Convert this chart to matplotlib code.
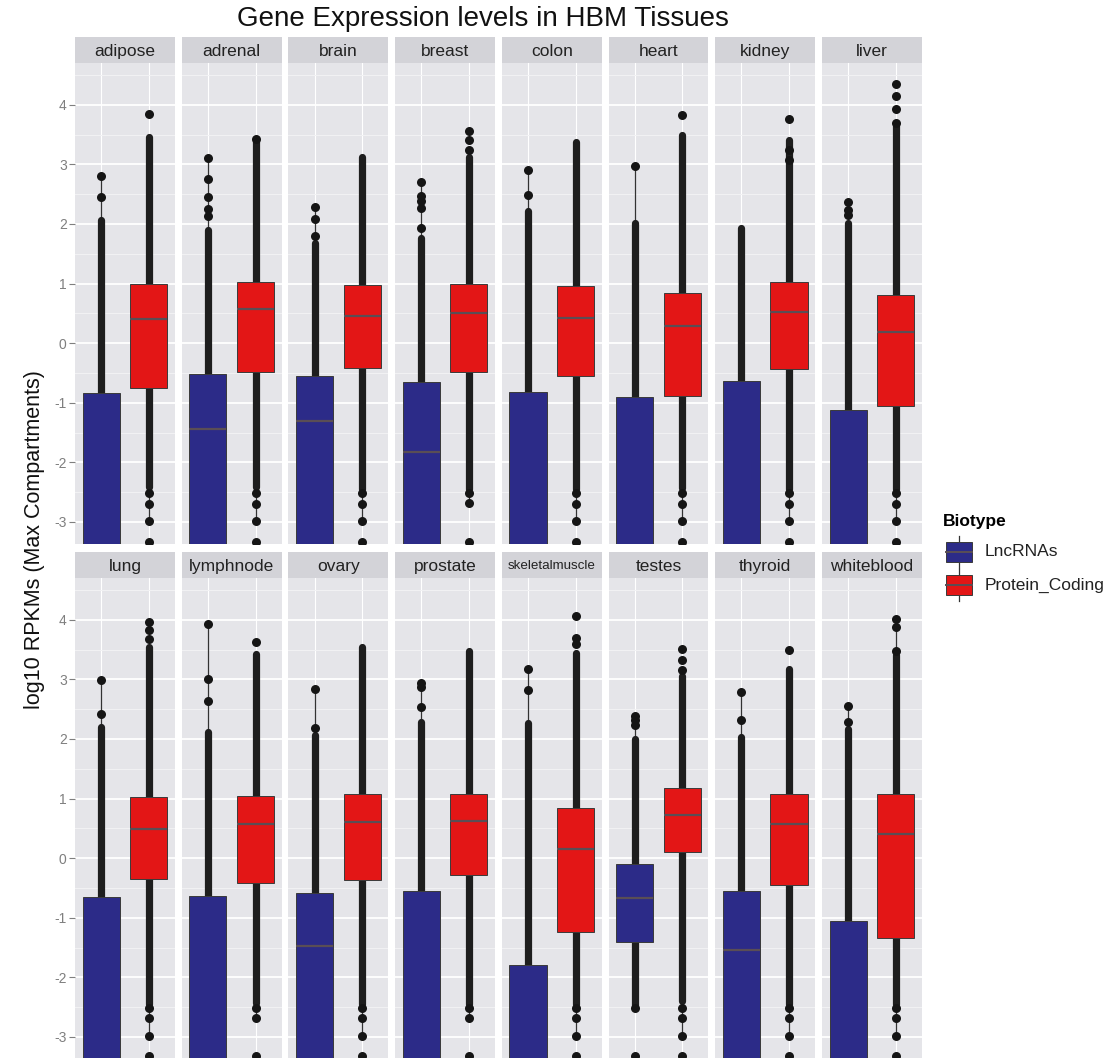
import numpy as np
import matplotlib.pyplot as plt

plt.rcParams['font.family'] = ['Liberation Sans', 'DejaVu Sans']
plt.rcParams['axes.unicode_minus'] = False

W, H = 1119, 1058

tissues = ['adipose', 'adrenal', 'brain', 'breast', 'colon', 'heart', 'kidney', 'liver',
           'lung', 'lymphnode', 'ovary', 'prostate', 'skeletalmuscle', 'testes', 'thyroid', 'whiteblood']

# LncRNAs (blue) -- lower quartile (and most medians) fall below the visible range
lnc_q1 = [-3.6, -3.6, -3.6, -3.6, -3.6, -3.6, -3.6, -3.6,
          -3.6, -3.6, -3.6, -3.6, -3.6, -1.40, -3.6, -3.6]
lnc_med = [-3.5, -1.44, -1.30, -1.82, -3.5, -3.5, -3.5, -3.5,
           -3.5, -3.5, -1.48, -3.5, -3.5, -0.67, -1.54, -3.5]
lnc_q3 = [-0.83, -0.52, -0.55, -0.66, -0.82, -0.90, -0.64, -1.12,
          -0.66, -0.63, -0.59, -0.55, -1.80, -0.09, -0.55, -1.05]
lnc_whis_lo = [-3.6, -3.6, -3.6, -3.6, -3.6, -3.6, -3.6, -3.6,
               -3.6, -3.6, -3.6, -3.6, -3.6, -2.51, -3.6, -3.6]
lnc_whis_hi = [2.81, 3.11, 2.28, 2.71, 2.91, 2.97, 1.93, 2.36,
               2.99, 3.93, 2.83, 2.93, 3.18, 2.39, 2.79, 2.56]
# range covered by a solid run of points
lnc_dense_lo = [-3.6, -3.6, -3.6, -3.6, -3.6, -3.6, -3.6, -3.6,
                -3.6, -3.6, -3.6, -3.6, -3.6, -2.47, -3.6, -3.6]
lnc_dense_hi = [2.07, 1.90, 1.68, 1.76, 2.21, 2.01, 1.93, 2.02,
                2.20, 2.12, 2.06, 2.28, 2.26, 2.00, 2.03, 2.17]
lnc_points = [[2.81, 2.46], [3.11, 2.75, 2.46, 2.25, 2.13], [2.28, 2.08, 1.79],
              [2.71, 2.47, 2.38, 2.27, 1.93], [2.91, 2.49], [2.97], [], [2.36, 2.24, 2.15],
              [2.99, 2.41], [3.93, 3.01, 2.63], [2.83, 2.18], [2.93, 2.87, 2.53],
              [3.18, 2.82], [2.39, 2.31, 2.23, -2.51, -3.32], [2.79, 2.31], [2.56, 2.28]]

# Protein_Coding (red)
pc_q1 = [-0.745, -0.48, -0.42, -0.49, -0.55, -0.88, -0.44, -1.06,
         -0.35, -0.41, -0.36, -0.29, -1.24, 0.10, -0.45, -1.34]
pc_med = [0.40, 0.57, 0.46, 0.50, 0.42, 0.28, 0.52, 0.18,
          0.49, 0.58, 0.60, 0.62, 0.15, 0.73, 0.58, 0.41]
pc_q3 = [0.995, 1.02, 0.97, 0.995, 0.96, 0.84, 1.02, 0.80,
         1.02, 1.04, 1.07, 1.08, 0.84, 1.17, 1.08, 1.08]
pc_whis_lo = [-2.99, -2.99, -2.99, -2.69, -2.99, -2.99, -2.99, -2.99,
              -2.99, -2.69, -2.99, -2.69, -2.99, -2.99, -2.99, -2.99]
pc_whis_hi = [3.46, 3.43, 3.12, 3.13, 3.37, 3.50, 3.41, 3.64,
              3.54, 3.43, 3.54, 3.48, 3.45, 3.06, 3.18, 4.02]
pc_dense_lo = [-2.41, -2.42, -2.45, -2.44, -2.45, -2.43, -2.45, -2.44,
               -2.45, -2.43, -2.45, -2.44, -2.45, -2.40, -2.45, -2.44]
pc_dense_hi = [3.46, 3.43, 3.12, 3.13, 3.37, 3.50, 3.41, 3.64,
               3.54, 3.43, 3.54, 3.48, 3.45, 3.06, 3.18, 3.40]
pc_points = [[3.84, -2.51, -2.70, -2.99, -3.33],
             [3.43, -2.51, -2.70, -2.99, -3.33],
             [-2.51, -2.70, -2.99, -3.33],
             [3.56, 3.41, 3.24, -2.51, -2.69, -3.33],
             [-2.51, -2.70, -2.99, -3.33],
             [3.83, -2.51, -2.70, -2.99, -3.33],
             [3.76, 3.24, 3.08, -2.51, -2.70, -2.99, -3.33],
             [4.34, 4.14, 3.92, 3.70, -2.51, -2.70, -2.99, -3.33],
             [3.96, 3.82, 3.68, -2.51, -2.69, -2.99, -3.32],
             [3.63, -2.51, -2.69, -3.32],
             [-2.51, -2.69, -2.99, -3.32],
             [-2.51, -2.69, -3.32],
             [4.06, 3.70, 3.60, -2.51, -2.69, -2.99, -3.32],
             [3.51, 3.32, 3.15, -2.51, -2.69, -2.99, -3.32],
             [3.50, -2.51, -2.69, -2.99, -3.32],
             [4.02, 3.87, 3.48, -2.51, -2.69, -2.99, -3.32]]

blue = '#2C2B88'
red = '#E31616'
panel_bg = '#E5E5E9'
strip_bg = '#D3D3D8'

fig = plt.figure(figsize=(W / 100, H / 100), dpi=100)

for i, name in enumerate(tissues):
    row, col = divmod(i, 8)
    left = 75 + col * 106.7
    top = 63 if row == 0 else 578
    bottom = top + 481
    ax = fig.add_axes([left / W, 1 - bottom / H, 100 / W, (bottom - top) / H])
    ax.set_facecolor(panel_bg)
    ax.set_xlim(0.45, 2.55)
    ax.set_ylim(-3.37, 4.70)
    ax.set_yticks(np.arange(-3, 5))
    ax.set_yticks(np.arange(-2.5, 5, 1.0), minor=True)
    ax.set_xticks([1, 2])
    ax.grid(which='major', axis='y', color='white', lw=1.3)
    ax.grid(which='major', axis='x', color='white', lw=0.8)
    ax.grid(which='minor', axis='y', color='#F2F2F4', lw=0.7)
    ax.set_axisbelow(True)
    for s in ax.spines.values():
        s.set_visible(False)
    ax.tick_params(axis='x', bottom=False, labelbottom=False)
    ax.tick_params(axis='y', which='minor', left=False)
    if col == 0:
        ax.tick_params(axis='y', which='major', colors='#7F7F7F', length=4,
                       width=0.8, labelsize=10, pad=2)
    else:
        ax.tick_params(axis='y', which='major', left=False, labelleft=False)

    # solid runs of points behind the boxes
    ax.plot([1, 1], [lnc_dense_lo[i], lnc_dense_hi[i]], color='#1E1E1E', lw=5.2,
            solid_capstyle='round', zorder=2)
    ax.plot([2, 2], [pc_dense_lo[i], pc_dense_hi[i]], color='#1E1E1E', lw=5.2,
            solid_capstyle='round', zorder=2)

    stats = [dict(med=lnc_med[i], q1=lnc_q1[i], q3=lnc_q3[i],
                  whislo=lnc_whis_lo[i], whishi=lnc_whis_hi[i], fliers=lnc_points[i]),
             dict(med=pc_med[i], q1=pc_q1[i], q3=pc_q3[i],
                  whislo=pc_whis_lo[i], whishi=pc_whis_hi[i], fliers=pc_points[i])]
    bp = ax.bxp(stats, positions=[1, 2], widths=0.78, patch_artist=True,
                showcaps=False, manage_ticks=False,
                boxprops=dict(edgecolor='#3A3A3A', linewidth=0.7),
                whiskerprops=dict(color='#333333', linewidth=0.9),
                medianprops=dict(color='#5A4E55', linewidth=1.6),
                flierprops=dict(marker='o', markersize=6.5, markerfacecolor='#151515',
                                markeredgecolor='none'))
    for patch, c in zip(bp['boxes'], [blue, red]):
        patch.set_facecolor(c)
        patch.set_zorder(4)
    for m in bp['medians']:
        m.set_zorder(5)
    for w in bp['whiskers']:
        w.set_zorder(1.9)
    for f in bp['fliers']:
        f.set_zorder(3)

    # facet strip
    sax = fig.add_axes([left / W, 1 - top / H, 100 / W, 26 / H])
    sax.set_facecolor(strip_bg)
    sax.set_xticks([])
    sax.set_yticks([])
    for s in sax.spines.values():
        s.set_visible(False)
    fs = 9.6 if len(name) > 11 else 12.5
    sax.text(0.5, 0.45, name, ha='center', va='center', fontsize=fs, color='#222222',
             transform=sax.transAxes)

fig.text(483 / W, 1 - 26 / H, 'Gene Expression levels in HBM Tissues',
         ha='center', va='baseline', fontsize=20, color='#111111')
fig.text(35 / W, 1 - 540 / H, 'log10 RPKMs (Max Compartments)', rotation=90,
         ha='center', va='center', fontsize=15.5, color='#111111')

# legend drawn in pixel units
lax = fig.add_axes([930 / W, 1 - 610 / H, 189 / W, 110 / H])
lax.set_xlim(930, 1119)
lax.set_ylim(610, 500)
lax.axis('off')
lax.text(943, 522, 'Biotype', fontsize=12.5, fontweight='bold', va='center', ha='left')
for yc, c, lab in [(552, blue, 'LncRNAs'), (585, red, 'Protein_Coding')]:
    lax.plot([959, 959], [yc - 16, yc + 16], color='#333333', lw=0.9)
    lax.add_patch(plt.Rectangle((946, yc - 10), 26, 20, facecolor=c,
                                edgecolor='#3A3A3A', lw=0.7, zorder=3))
    lax.plot([946, 972], [yc, yc], color='#5A4E55', lw=1.4, zorder=4)
    lax.text(985, yc, lab, fontsize=12.5, va='center', ha='left', color='#222222')

fig.savefig('out.png', dpi=100)
